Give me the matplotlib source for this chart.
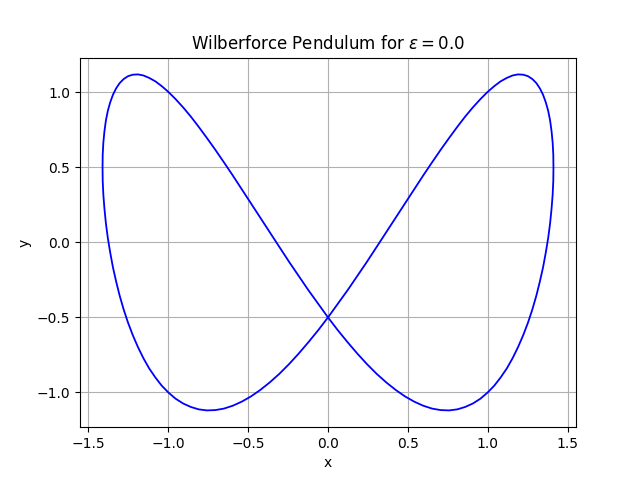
import numpy as np
import matplotlib
matplotlib.use('Agg')
import matplotlib.pyplot as plt

# points read along the trajectory (x, y), right half of the loop
x_right = [0.0, 0.061, 0.123, 0.184, 0.245, 0.305, 0.365, 0.424, 0.482, 0.540,
           0.596, 0.651, 0.705, 0.758, 0.809, 0.858, 0.906, 0.953, 0.997, 1.040,
           1.080, 1.119, 1.155, 1.189, 1.221, 1.251, 1.278, 1.303, 1.325, 1.345,
           1.362, 1.377, 1.389, 1.398, 1.405, 1.409, 1.410,
           1.409, 1.405, 1.398, 1.389, 1.377, 1.362, 1.345, 1.325, 1.303,
           1.278, 1.251, 1.221, 1.189, 1.155, 1.119, 1.080, 1.040, 0.997, 0.953,
           0.906, 0.858, 0.809, 0.758, 0.705, 0.651, 0.596, 0.540, 0.482, 0.424,
           0.365, 0.305, 0.245, 0.184, 0.123, 0.061]
y_half = [-0.500, -0.410, -0.318, -0.223, -0.127, -0.029, 0.068, 0.166, 0.261, 0.355,
          0.447, 0.534, 0.618, 0.697, 0.771, 0.839, 0.900, 0.955, 1.002, 1.042,
          1.074, 1.097, 1.113, 1.120, 1.118, 1.108, 1.089, 1.062, 1.027, 0.984,
          0.934, 0.877, 0.813, 0.742, 0.666, 0.585, 0.500,
          0.410, 0.318, 0.223, 0.127, 0.029, -0.068, -0.166, -0.261, -0.355,
          -0.447, -0.534, -0.618, -0.697, -0.771, -0.839, -0.900, -0.955, -1.002, -1.042,
          -1.074, -1.097, -1.113, -1.120, -1.118, -1.108, -1.089, -1.062, -1.027, -0.984,
          -0.934, -0.877, -0.813, -0.742, -0.666, -0.585]

# left half mirrors the right one in x
x = np.array(x_right + [-v for v in x_right] + [0.0])
y = np.array(y_half + y_half + [y_half[0]])

plt.figure(figsize=(6.4, 4.8), dpi=100)
plt.plot(x, y, color='blue', linewidth=1.3)
plt.title(r'Wilberforce Pendulum for $\epsilon = 0.0$')
plt.xlabel('x')
plt.ylabel('y')
plt.grid(True)
plt.savefig('out.png')
